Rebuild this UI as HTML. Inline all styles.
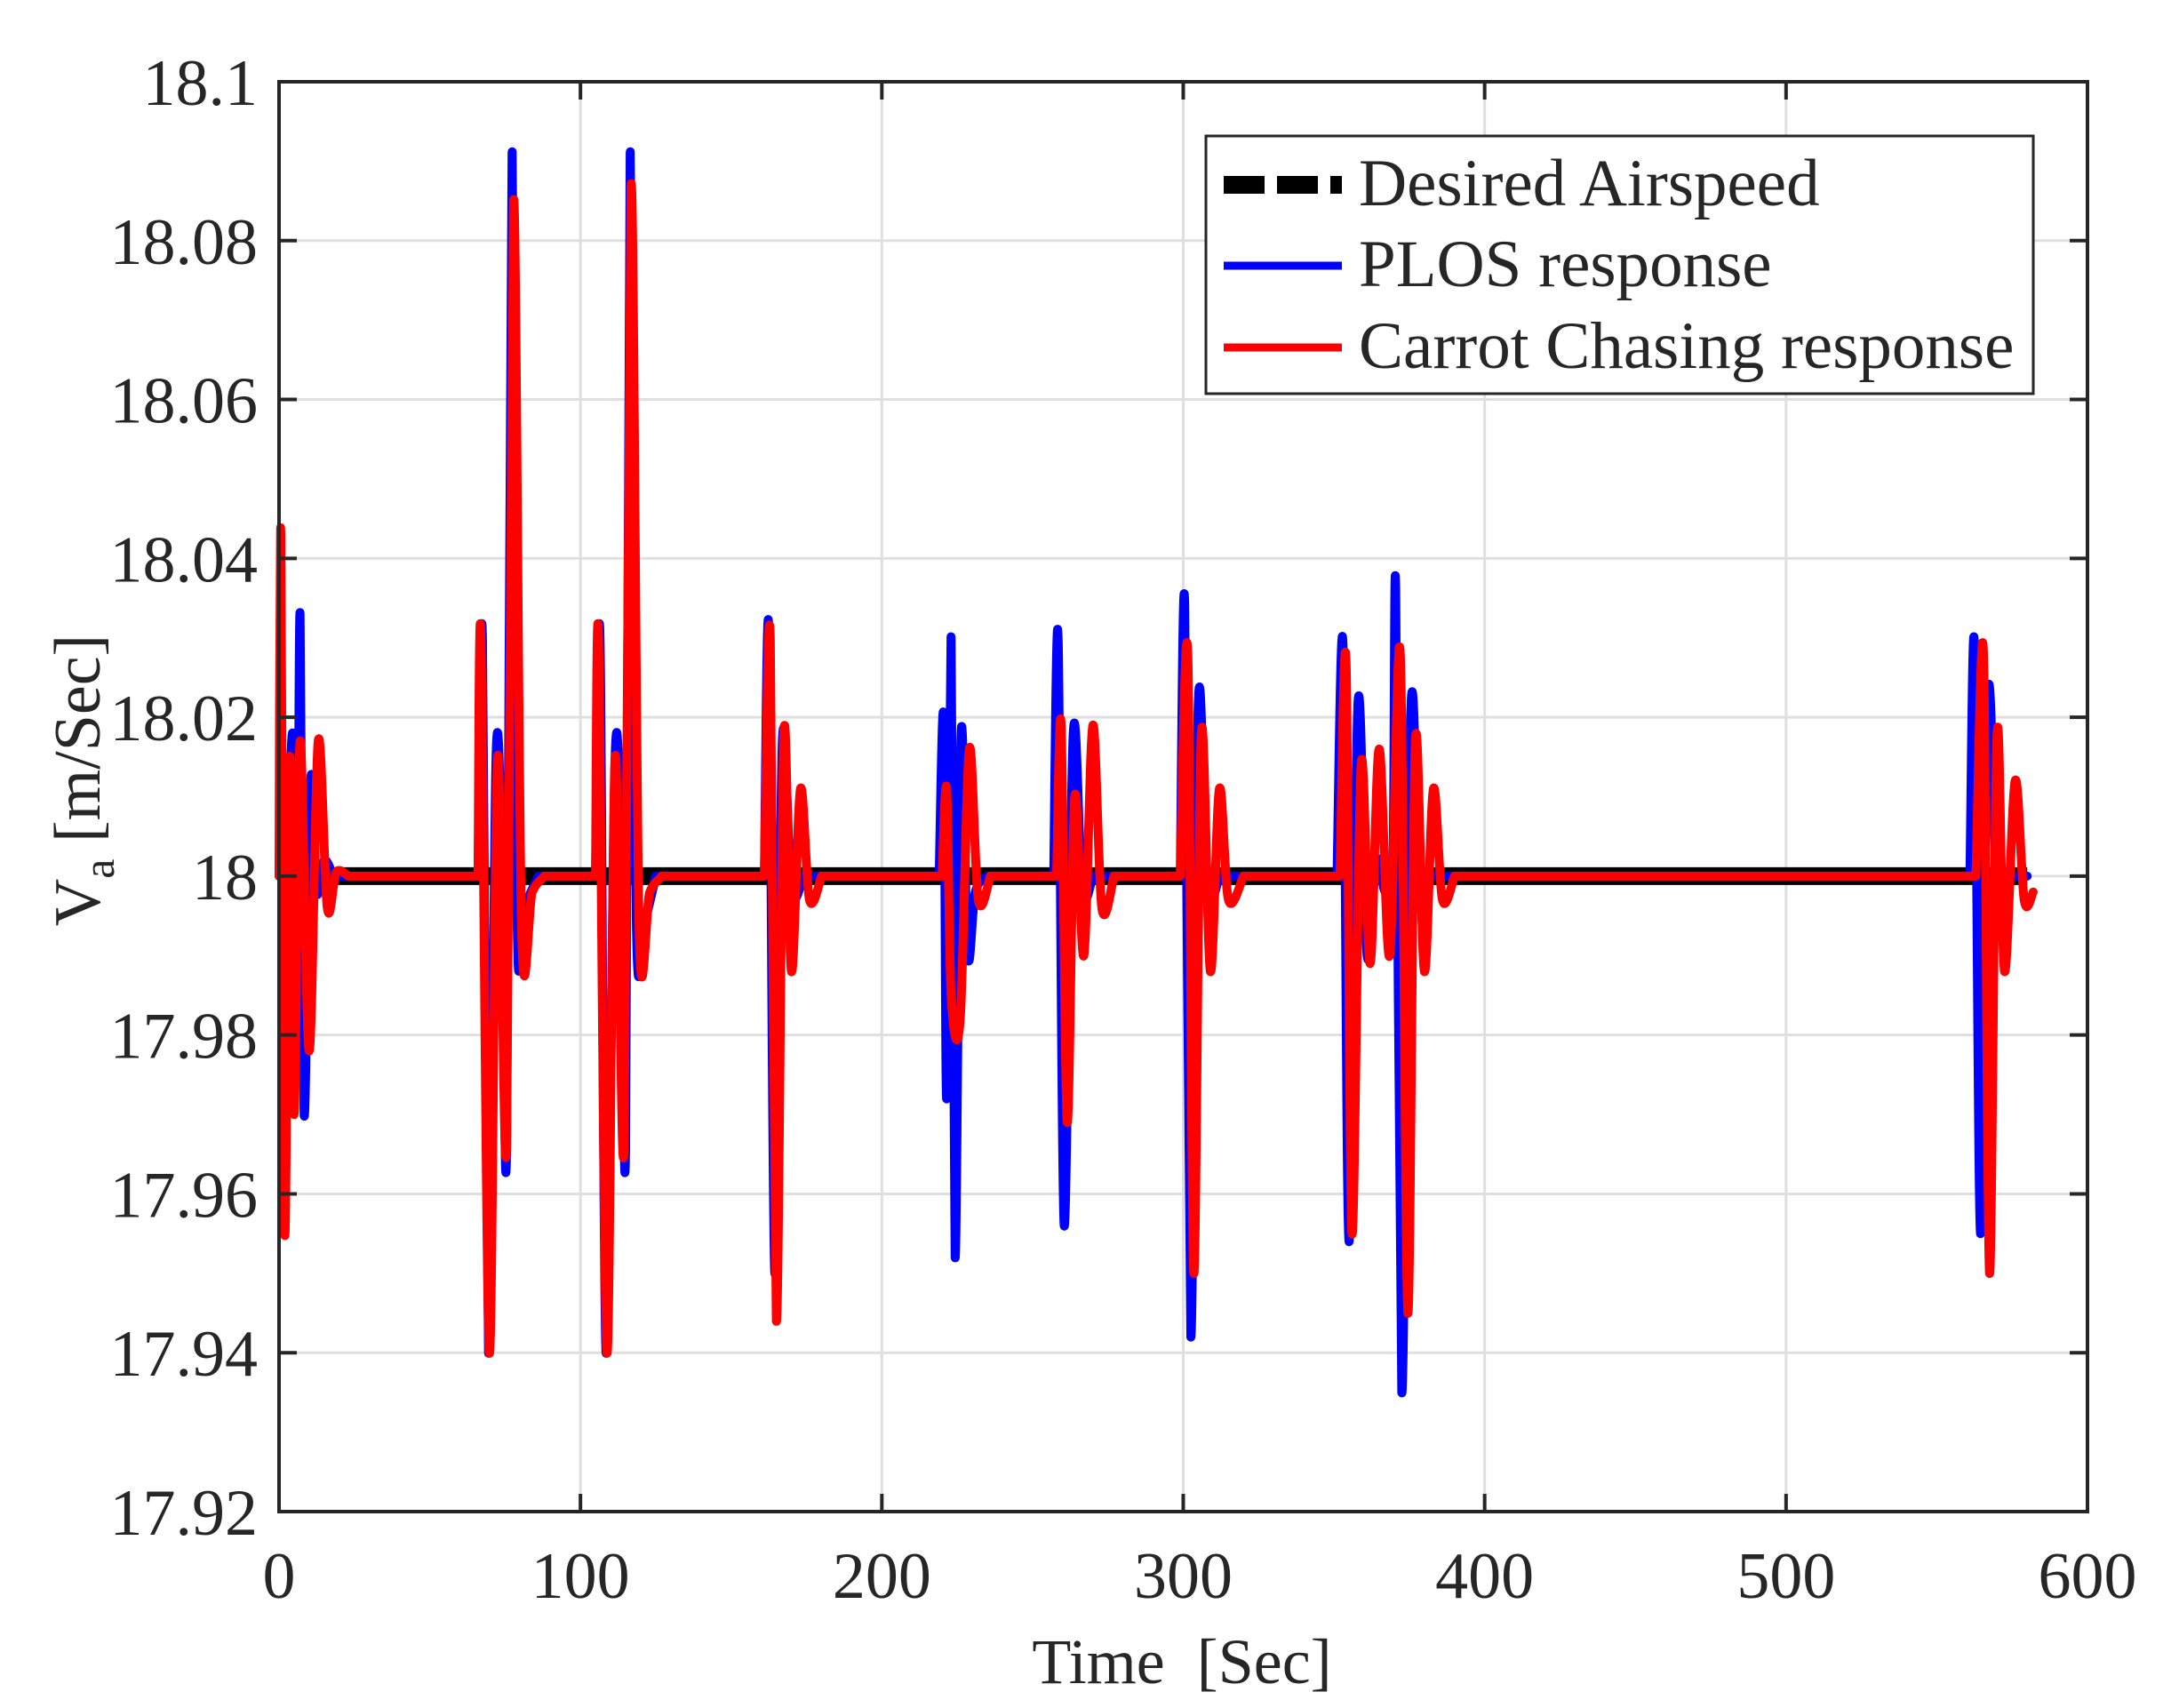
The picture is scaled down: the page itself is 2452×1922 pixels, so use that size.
<!DOCTYPE html>
<html><head><meta charset="utf-8"><style>
html,body{margin:0;padding:0;background:#fff;}
svg{display:block;}
text{font-family:"Liberation Serif",serif;fill:#262626;}
</style></head><body>
<svg id="s" width="2452" height="1922" viewBox="0 0 2452 1922" xmlns="http://www.w3.org/2000/svg">
<rect width="2452" height="1922" fill="#fff"/>
<g id="grid" stroke="#dfdfdf" stroke-width="3"></g>
<g id="data"></g>
<g id="axes" stroke="#262626" stroke-width="4" fill="none"></g>
<g id="labels" font-size="74"></g>
<text x="1330" y="1894" font-size="72" text-anchor="middle">Time&#160;&#160;[Sec]</text>
<text transform="translate(112,878) rotate(-90)" font-size="74" text-anchor="middle">V<tspan font-size="50" dy="16">a</tspan><tspan dy="-16">&#160;[m/Sec]</tspan></text>
<g>
<rect x="1357" y="153" width="931" height="290" fill="#fff" stroke="#262626" stroke-width="3"/>
<line x1="1377" y1="208" x2="1510" y2="208" stroke="#000" stroke-width="20" stroke-dasharray="46,14"/>
<line x1="1377" y1="299" x2="1510" y2="299" stroke="#0000ff" stroke-width="9"/>
<line x1="1377" y1="391" x2="1510" y2="391" stroke="#ff0000" stroke-width="9"/>
<text x="1529" y="231" font-size="75">Desired Airspeed</text>
<text x="1529" y="322" font-size="75">PLOS response</text>
<text x="1529" y="414" font-size="75">Carrot Chasing response</text>
</g>
</svg>
<script>
var L=314,R=2349,T=92,B=1701;
function X(t){return L+t*(R-L)/600;}
function Y(v){return T+(18.1-v)/0.18*(B-T);}
var NS="http://www.w3.org/2000/svg";
function el(p,n,a){var e=document.createElementNS(NS,n);for(var k in a)e.setAttribute(k,a[k]);p.appendChild(e);return e;}
var grid=document.getElementById('grid'),axes=document.getElementById('axes'),lab=document.getElementById('labels');
for(var i=1;i<6;i++){var x=X(i*100);el(grid,'line',{x1:x,y1:T,x2:x,y2:B});}
for(var j=1;j<9;j++){var y=T+j*(B-T)/9;el(grid,'line',{x1:L,y1:y,x2:R,y2:y});}
el(axes,'rect',{x:L,y:T,width:R-L,height:B-T});
for(var i=0;i<=6;i++){var x=X(i*100);el(axes,'line',{x1:x,y1:B,x2:x,y2:B-20});el(axes,'line',{x1:x,y1:T,x2:x,y2:T+20});
 var t=el(lab,'text',{x:x,y:1798,'text-anchor':'middle'});t.textContent=String(i*100);}
var yl=['18.1','18.08','18.06','18.04','18.02','18','17.98','17.96','17.94','17.92'];
for(var j=0;j<=9;j++){var y=T+j*(B-T)/9;el(axes,'line',{x1:L,y1:y,x2:L+20,y2:y});el(axes,'line',{x1:R,y1:y,x2:R-20,y2:y});
 var t=el(lab,'text',{x:290,y:y+26,'text-anchor':'end'});t.textContent=yl[j];}
function path(pts){
 var P=pts.map(function(p){return [X(p[0]),Y(p[1])];});
 var d='M'+P[0][0].toFixed(1)+','+P[0][1].toFixed(1);
 for(var i=0;i<P.length-1;i++){
  if(pts[i+1][0]-pts[i][0]>5){d+='L'+P[i+1][0].toFixed(1)+','+P[i+1][1].toFixed(1);continue;}
  var p0=(i>0&&pts[i][0]-pts[i-1][0]<=5)?P[i-1]:P[i],p1=P[i],p2=P[i+1];
  var p3=(i+2<P.length&&pts[i+2][0]-pts[i+1][0]<=5)?P[i+2]:P[i+1];
  var c1=[p1[0]+(p2[0]-p0[0])/6,p1[1]+(p2[1]-p0[1])/6],c2=[p2[0]-(p3[0]-p1[0])/6,p2[1]-(p3[1]-p1[1])/6];
  d+='C'+c1[0].toFixed(1)+','+c1[1].toFixed(1)+' '+c2[0].toFixed(1)+','+c2[1].toFixed(1)+' '+p2[0].toFixed(1)+','+p2[1].toFixed(1);
 }
 return d;
}
var blue=[[0,18],[1,18.015],[2,17.995],[4.5,18.018],[6,17.99],[7,18.033],[8.3,17.97],[10.5,18.012],[12.5,17.998],[15,18.002],[18,18],
[66,18],[67.5,18.03],[69.5,17.94],[72,18.015],[74,18.0],[75.5,17.966],[77.3,18.091],[79,17.995],[81,17.996],[86,18],
[105,18],[106.5,18.03],[108.5,17.94],[111.5,18.015],[113.5,18.0],[115,17.966],[116.5,18.091],[118.5,17.995],[121,17.994],[125,18],
[161,18],[162.5,18.031],[164.5,17.95],[167,18.017],[170,17.998],[174,18],
[219,18],[220.5,18.02],[221.5,17.972],[223,18.03],[224.3,17.952],[226.3,18.018],[228.5,17.99],[231,17.998],[235,18],
[257,18],[258.5,18.03],[260.5,17.956],[263.5,18.018],[266.5,17.998],[270,18],
[299,18],[300.5,18.034],[302.5,17.942],[305,18.022],[308,17.998],[312,18],
[351,18],[353,18.029],[355,17.954],[358,18.022],[361,17.99],[364,18.002],[367,17.998],[369.5,18],[370.5,18.036],[372.5,17.935],[375.5,18.021],[378.5,17.998],[382,18],
[561,18],[562.5,18.029],[564.5,17.955],[567,18.023],[570,17.998],[573,18],[580,18]];
var red=[[0,18],[0.6,18.043],[1.9,17.955],[3.5,18.015],[5,17.97],[7,18.017],[10,17.978],[13,18.017],[16,17.996],[19,18.0005],[23,18],
[66,18],[67,18.03],[69.8,17.94],[72.5,18.015],[75.5,17.966],[77.8,18.085],[80.5,17.993],[84,17.998],[88,18],
[105,18],[106,18.03],[108.8,17.94],[111.5,18.015],[114.5,17.966],[116.8,18.087],[119.5,17.993],[123,17.998],[127,18],
[161,18],[163,18.03],[165,17.944],[167.5,18.018],[170,17.988],[173,18.011],[176,17.997],[180,18],
[220,18],[221.5,18.011],[223,17.985],[226,17.982],[229,18.016],[232,17.997],[236,18],
[258,18],[259.5,18.019],[261.5,17.969],[264,18.01],[267,17.99],[270,18.019],[273,17.996],[277,18],
[299,18],[301.5,18.028],[303.5,17.95],[306,18.018],[309,17.988],[312,18.011],[315,17.997],[320,18],
[352,18],[354,18.027],[356,17.955],[359,18.014],[362,17.989],[365,18.016],[368.5,17.99],[372,18.028],[374.5,17.945],[377,18.017],[380,17.988],[383,18.011],[386,17.997],[390,18],
[563,18],[565.5,18.028],[567.5,17.95],[570,18.018],[572.5,17.988],[576,18.012],[579,17.997],[582,17.998]];
var data=document.getElementById('data');
el(data,'line',{x1:X(0),y1:Y(18),x2:X(580),y2:Y(18),stroke:'#000','stroke-width':20});
el(data,'path',{d:path(blue),fill:'none',stroke:'#0000ff','stroke-width':10,'stroke-linejoin':'round','stroke-linecap':'round'});
el(data,'path',{d:path(red),fill:'none',stroke:'#ff0000','stroke-width':10,'stroke-linejoin':'round','stroke-linecap':'round'});
</script>
</body></html>
